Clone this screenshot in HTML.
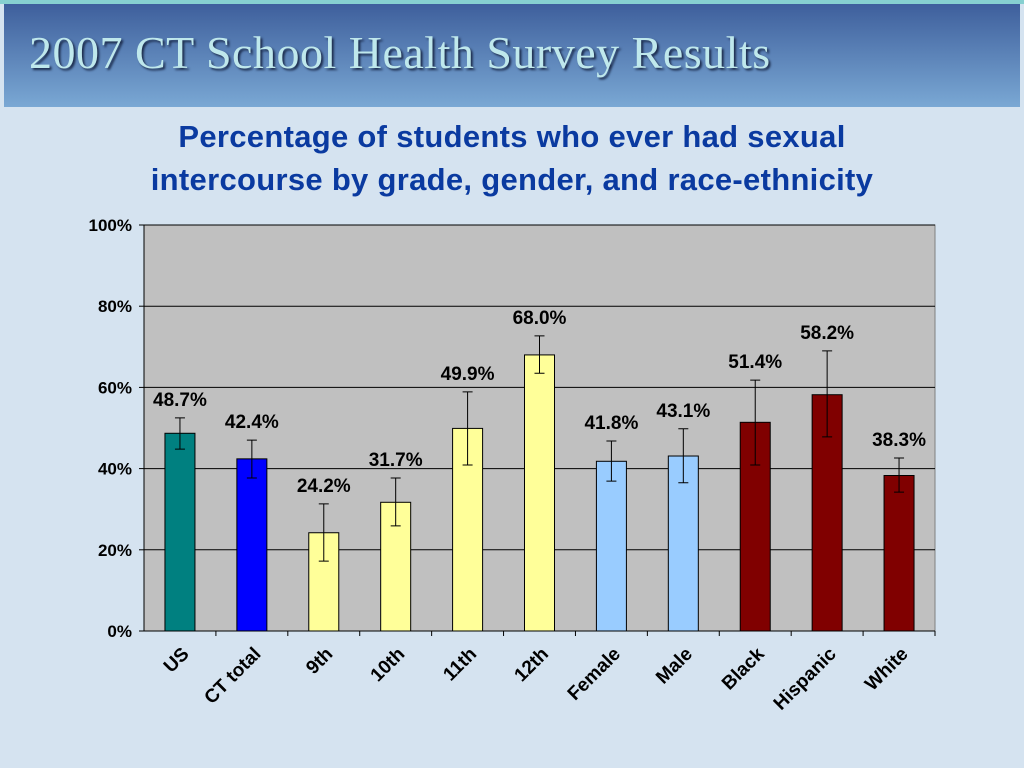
<!DOCTYPE html>
<html><head><meta charset="utf-8"><style>
body{margin:0;width:1024px;height:768px;background:#d5e3f0;position:relative;overflow:hidden;font-family:"Liberation Sans",sans-serif}
#frame{position:absolute;left:0;top:0;width:1024px;height:4px;background:#86d0d0}
#banner{position:absolute;left:4px;top:4px;width:1016px;height:103px;background:linear-gradient(#3e5f9c,#7aa8d4)}
#title{position:absolute;left:25px;top:22px;font-family:"Liberation Serif",serif;font-size:46px;letter-spacing:0.5px;color:#bfe8ec;text-shadow:2px 2px 2px #1c2c4c;white-space:nowrap}
#sub{position:absolute;left:0;width:1024px;top:115px;text-align:center;font-size:31px;font-weight:bold;color:#0a3aa0;line-height:43px;letter-spacing:0.3px}
</style></head><body>
<div id="frame"></div>
<div id="banner"><div id="title">2007 CT School Health Survey Results</div></div>
<div id="sub">Percentage of students who ever had sexual<br>intercourse by grade, gender, and race-ethnicity</div>
<svg id="chart" width="1024" height="768" style="position:absolute;left:0;top:0"></svg>
<script>
const categories=["US","CT total","9th","10th","11th","12th","Female","Male","Black","Hispanic","White"];
const values=[48.7,42.4,24.2,31.7,49.9,68.0,41.8,43.1,51.4,58.2,38.3];
const errHigh=[52.5,47.0,31.3,37.7,58.9,72.7,46.8,49.8,61.8,69.0,42.6];
const errLow=[44.8,37.7,17.2,25.9,40.9,63.5,36.9,36.5,40.9,47.8,34.2];
const colors=["#008080","#0000ff","#ffff99","#ffff99","#ffff99","#ffff99","#99ccff","#99ccff","#800000","#800000","#800000"];
const yTicks=[0,20,40,60,80,100];
const NS="http://www.w3.org/2000/svg";
const svg=document.getElementById('chart');
const X0=144,X1=935,Y0=631,Y1=225;
const band=(X1-X0)/categories.length;
const y=v=>Y0-(v/100)*(Y0-Y1);
const xc=i=>X0+band*(i+0.5);
function mk(t,a){const e=document.createElementNS(NS,t);for(const k in a)e.setAttribute(k,a[k]);svg.appendChild(e);return e;}
let bg=mk('rect',{x:X0,y:Y1,width:X1-X0,height:Y0-Y1,fill:'#c0c0c0',stroke:'#808080'});


yTicks.forEach(t=>{
 if(t>0){let g=mk('line',{x1:X0,x2:X1,y1:y(t),y2:y(t),stroke:'#000','stroke-width':1});
 
 }
 let tk=mk('line',{x1:X0-5,x2:X0,y1:y(t),y2:y(t),stroke:'#000'});
 
 
 let l=mk('text',{x:X0-12,y:y(t)+6,'text-anchor':'end','font-size':17,'font-weight':'bold','font-family':'Liberation Sans, sans-serif'});
 l.textContent=t+'%';
 
 
});
let ax=mk('line',{x1:X0,x2:X0,y1:Y1,y2:Y0,stroke:'#000'});


let axx=mk('line',{x1:X0,x2:X1,y1:Y0,y2:Y0,stroke:'#000'});


categories.forEach((c,i)=>{
 const cx=xc(i),w=30;
 let b=mk('rect',{x:cx-w/2,y:y(values[i]),width:w,height:Y0-y(values[i]),fill:colors[i],stroke:'#000'});
 
 
 let e=mk('path',{d:`M${cx-5},${y(errHigh[i])}H${cx+5}M${cx},${y(errHigh[i])}V${y(errLow[i])}M${cx-5},${y(errLow[i])}H${cx+5}`,stroke:'#000',fill:'none'});
 
 
 let v=mk('text',{x:cx,y:Math.min(y(errHigh[i]),y(values[i]))-12,'text-anchor':'middle','font-size':19,'font-weight':'bold','font-family':'Liberation Sans, sans-serif'});
 v.textContent=values[i].toFixed(1)+'%';
 
 
 let tk=mk('line',{x1:X0+band*(i+1),x2:X0+band*(i+1),y1:Y0,y2:Y0+5,stroke:'#000'});
 
 
 let l=mk('text',{x:cx+10,y:Y0+24,'text-anchor':'end','font-size':19,'font-weight':'bold','font-family':'Liberation Sans, sans-serif',transform:`rotate(-45 ${cx+10} ${Y0+24})`});
 l.textContent=c;
 
 
});
</script>
</body></html>
